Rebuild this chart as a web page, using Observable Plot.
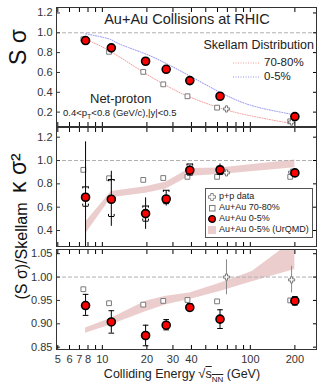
<!DOCTYPE html>
<html><head><meta charset="utf-8">
<script src="https://cdn.jsdelivr.net/npm/d3@7"></script>
<script src="https://cdn.jsdelivr.net/npm/@observablehq/plot@0.6"></script>
<style>
body{margin:0;background:#fff;font-family:"Liberation Sans",Arial,sans-serif;}
#wrap{position:relative;width:320px;height:382px;overflow:hidden;background:#fff;}
.ov{position:absolute;white-space:nowrap;color:#222;line-height:1;}
.ov svg{position:static;}
</style></head><body><div id="wrap"></div>
<script>
// ---------- data ----------
const energies = [7.7, 11.5, 19.6, 27, 39, 62.4, 200];
const periphE = [7.44, 11.1, 18.9, 25.8, 37.6, 59.6, 186];
const ppE = [69, 190];

// S sigma
const sSigCentral = [0.922, 0.848, 0.713, 0.632, 0.518, 0.36, 0.155];
const sSigPeriph = [0.935, 0.808, 0.606, 0.48, 0.36, 0.245, 0.107];
const sSigPP = [0.232, 0.10];
const skellamPeriphE = [7.44, 8.1, 11.1, 18.6, 25.4, 36.6, 59.9, 95.3, 168, 189];
const skellamPeriph = [0.95, 0.92, 0.82, 0.61, 0.49, 0.37, 0.25, 0.17, 0.10, 0.095];
const skellamCentralE = [7.7, 11.0, 12.9, 18.6, 25.4, 38.4, 62.4, 100, 160, 200];
const skellamCentral = [0.99, 0.94, 0.89, 0.80, 0.71, 0.57, 0.40, 0.27, 0.20, 0.17];

// kappa sigma^2
const kSigCentral = [0.685, 0.668, 0.545, 0.67, 0.917, 0.92, 0.894];
const kSigStatLo = [0.22, 0.436, 0.41, 0.61, 0.88, 0.87, 0.88];
const kSigStatHi = [1.16, 0.908, 0.68, 0.74, 0.955, 0.97, 0.91];
const kSigSysLo = [0.608, 0.52, 0.48, 0.63, 0.875, 0.88, 0.875];
const kSigSysHi = [0.774, 0.837, 0.61, 0.745, 0.97, 0.95, 0.915];
const kSigPeriph = [0.92, 0.848, 0.834, 0.85, 0.86, 0.86, 0.86];
const kSigPP = [0.894, 0.90];
const urqmdE = [7.7, 11.5, 19.6, 27, 39, 62.4, 200];
const kSigUrqmdLo = [0.37, 0.68, 0.72, 0.756, 0.865, 0.88, 0.937];
const kSigUrqmdHi = [0.47, 0.735, 0.775, 0.815, 0.932, 0.935, 1.005];

// (S sigma)/Skellam
const ratioCentral = [0.939, 0.904, 0.875, 0.897, 0.935, 0.91, 0.949];
const ratioStatLo = [0.918, 0.88, 0.853, 0.887, 0.928, 0.89, 0.94];
const ratioStatHi = [0.963, 0.928, 0.897, 0.909, 0.943, 0.93, 0.958];
const ratioPeriph = [0.974, 0.944, 0.941, 0.949, 0.951, 0.948, 0.95];
const ratioPP = [1.0, 0.994];
const ratioPPLo = [0.962, 0.966];
const ratioPPHi = [1.037, 1.023];
const ratioUrqmdE = [7.7, 11.5, 19.6, 27, 39, 62.4, 103, 200];
const ratioUrqmdLo = [0.880, 0.898, 0.926, 0.941, 0.952, 0.969, 0.99, 1.016];
const ratioUrqmdHi = [0.891, 0.912, 0.948, 0.959, 0.966, 0.987, 1.012, 1.08];

// ticks
const xTicks = [5, 6, 7, 8, 9, 10, 20, 30, 40, 50, 60, 70, 80, 90, 100, 200];
const xLabels = [5, 6, 7, 8, 10, 20, 30, 40, 100, 200];
const yTicks1 = [0.2, 0.4, 0.6, 0.8, 1.0, 1.2];
const yTicks2 = [0.4, 0.6, 0.8, 1.0, 1.2];
const yTicks3 = [0.85, 0.90, 0.95, 1.00, 1.05];

// ---------- helpers ----------
const RED = "#ff0000", GREY = "#7a7a7a", BAND = "#eccdcd";
const PINK = "#f39a9a", LBLUE = "#9090f0";
const zip = (xs, ys) => xs.map((x, i) => ({x, y: ys[i]}));
const rows = (xs, lo, hi) => xs.map((x, i) => ({x, lo: lo[i], hi: hi[i]}));
const CAP = 1.045;

function capMarks(data, stroke) {
  return [
    Plot.link(data, {x1: d => d.x / CAP, x2: d => d.x * CAP, y1: "hi", y2: "hi", stroke, strokeWidth: 1}),
    Plot.link(data, {x1: d => d.x / CAP, x2: d => d.x * CAP, y1: "lo", y2: "lo", stroke, strokeWidth: 1})
  ];
}
function bracketMarks(data, stroke, h) {
  return [
    ...capMarks(data, stroke),
    Plot.ruleX(data, {x: d => d.x / CAP, y1: "hi", y2: d => d.hi - h, stroke, strokeWidth: 1}),
    Plot.ruleX(data, {x: d => d.x * CAP, y1: "hi", y2: d => d.hi - h, stroke, strokeWidth: 1}),
    Plot.ruleX(data, {x: d => d.x / CAP, y1: "lo", y2: d => d.lo + h, stroke, strokeWidth: 1}),
    Plot.ruleX(data, {x: d => d.x * CAP, y1: "lo", y2: d => d.lo + h, stroke, strokeWidth: 1})
  ];
}

function axes(yTicks, yFmt, showX) {
  return [
    Plot.axisY(yTicks, {anchor: "left", tickSize: -4, tickPadding: 8, tickFormat: yFmt, label: null, fontSize: 11, color: "#333"}),
    Plot.axisY(yTicks, {anchor: "right", tickSize: -4, tickFormat: () => "", label: null}),
    Plot.axisX(xTicks, {anchor: "bottom", tickSize: -4, tickFormat: () => "", label: null}),
    Plot.axisX(xTicks, {anchor: "top", tickSize: -4, tickFormat: () => "", label: null}),
    ...(showX ? [Plot.text(xLabels, {x: d => d, text: d => String(d), frameAnchor: "bottom", dy: 10, fontSize: 11, fill: "#333", lineAnchor: "middle"})] : []),
    Plot.frame({stroke: "#333"})
  ];
}

function panel({top, height, mt, mb, yDomain, marks}) {
  const svg = Plot.plot({
    width: 320, height, marginLeft: 56, marginRight: 4, marginTop: mt, marginBottom: mb,
    style: {background: "none", overflow: "visible", fontFamily: "Liberation Sans, Arial, sans-serif"},
    x: {type: "log", domain: [4.9, 280]},
    y: {domain: yDomain},
    marks
  });
  svg.style.position = "absolute";
  svg.style.left = "0px";
  svg.style.top = top + "px";
  document.getElementById("wrap").appendChild(svg);
}

const oneLine = Plot.ruleY([1], {stroke: "#b0b0b0", strokeDasharray: "4,2"});
const centralDot = (data) => Plot.dot(data, {x: "x", y: "y", r: 4, fill: RED, stroke: "#000", strokeWidth: 1.6});
const periphDot = (data) => Plot.dot(data, {x: "x", y: "y", symbol: "square", r: 2.7, fill: "white", stroke: GREY, strokeWidth: 1});
const ppDot = (data) => Plot.dot(data, {x: "x", y: "y", symbol: "cross", r: 2.6, fill: "white", stroke: GREY, strokeWidth: 1});

// ---------- panel 1 ----------
panel({
  top: 0, height: 130, mt: 7, mb: 4, yDomain: [0.055, 1.255],
  marks: [
    oneLine,
    Plot.line(zip(skellamPeriphE, skellamPeriph), {x: "x", y: "y", curve: "natural", stroke: PINK, strokeWidth: 1, strokeDasharray: "1,1.5"}),
    Plot.line(zip(skellamCentralE, skellamCentral), {x: "x", y: "y", curve: "natural", stroke: LBLUE, strokeWidth: 1, strokeDasharray: "1,1.5"}),
    periphDot(zip(periphE, sSigPeriph)),
    ppDot(zip(ppE, sSigPP)),
    centralDot(zip(energies, sSigCentral)),
    Plot.text(["S σ"], {frameAnchor: "left", dx: -38, dy: -2, rotate: -90, fontSize: 23, fill: "#111"}),
    ...axes(yTicks1, d3.format(".1f"), false)
  ]
});

// ---------- panel 2 ----------
panel({
  top: 120, height: 130, mt: 7, mb: 4, yDomain: [0.263, 1.283],
  marks: [
    Plot.areaY(urqmdE.map((x, i) => ({x, lo: kSigUrqmdLo[i], hi: kSigUrqmdHi[i]})), {x: "x", y1: "lo", y2: "hi", fill: BAND, clip: true}),
    oneLine,
    periphDot(zip(periphE, kSigPeriph)),
    ppDot(zip(ppE, kSigPP)),
    Plot.ruleX(rows(energies, kSigStatLo, kSigStatHi), {x: "x", y1: "lo", y2: "hi", stroke: "#000", strokeWidth: 1, clip: true}),
    ...bracketMarks(rows(energies, kSigSysLo, kSigSysHi), "#000", 0.018),
    centralDot(zip(energies, kSigCentral)),
    Plot.text(["κ σ²"], {frameAnchor: "left", dx: -38, dy: 6, rotate: -90, fontSize: 23, fill: "#111"}),
    ...axes(yTicks2, d3.format(".1f"), false)
  ]
});

// ---------- panel 3 ----------
panel({
  top: 240, height: 142, mt: 9, mb: 33, yDomain: [0.845, 1.059],
  marks: [
    Plot.areaY(ratioUrqmdE.map((x, i) => ({x, lo: ratioUrqmdLo[i], hi: ratioUrqmdHi[i]})), {x: "x", y1: "lo", y2: "hi", fill: BAND, clip: true}),
    oneLine,
    periphDot(zip(periphE, ratioPeriph)),
    Plot.ruleX(rows(ppE, ratioPPLo, ratioPPHi), {x: "x", y1: "lo", y2: "hi", stroke: "#888", strokeWidth: 1}),
    ppDot(zip(ppE, ratioPP)),
    Plot.ruleX(rows(energies, ratioStatLo, ratioStatHi), {x: "x", y1: "lo", y2: "hi", stroke: "#000", strokeWidth: 1}),
    ...capMarks(rows(energies, ratioStatLo, ratioStatHi), "#000"),
    centralDot(zip(energies, ratioCentral)),
    Plot.text(["(S σ)/Skellam"], {frameAnchor: "left", dx: -35, rotate: -90, fontSize: 16, fill: "#111"}),
    ...axes(yTicks3, d3.format(".2f"), true)
  ]
});

// ---------- annotations & legends ----------
const wrap = document.getElementById("wrap");
function ov(html, css) {
  const d = document.createElement("div");
  d.className = "ov";
  d.innerHTML = html;
  d.style.cssText += css;
  wrap.appendChild(d);
  return d;
}
const dotLine = (c) => `<svg width="26" height="4" style="vertical-align:middle;margin-right:5px"><line x1="0" y1="2" x2="26" y2="2" stroke="${c}" stroke-width="1" stroke-dasharray="1,1.5"/></svg>`;
ov("Au+Au Collisions at RHIC", "left:0;width:374px;text-align:center;top:12px;font-size:14.5px;");
ov("Skellam Distribution", "right:6px;top:39px;font-size:12.5px;");
ov(dotLine(PINK) + "70-80%", "left:233px;top:57px;font-size:11.5px;");
ov(dotLine(LBLUE) + "0-5%", "left:233px;top:71px;font-size:11.5px;");
ov("Net-proton", "left:90px;top:92px;font-size:13px;");
ov("0.4&lt;p<sub style='font-size:7px'>T</sub>&lt;0.8 (GeV/c),|y|&lt;0.5", "left:63px;top:108px;font-size:9.5px;");

const sym = (inner) => `<svg width="8" height="8" style="vertical-align:middle;margin-right:3px">${inner}</svg>`;
const legendHTML = [
  sym('<path d="M2.7,0.5h2.6v2.2h2.2v2.6h-2.2v2.2h-2.6v-2.2h-2.2v-2.6h2.2z" fill="white" stroke="#7a7a7a" stroke-width="0.9"/>') + "p+p data",
  sym('<rect x="1.5" y="1.5" width="5.5" height="5.5" fill="white" stroke="#7a7a7a"/>') + "Au+Au 70-80%",
  sym('<circle cx="4" cy="4" r="3.3" fill="#ff0000" stroke="#000" stroke-width="1.3"/>') + "Au+Au 0-5%",
  sym('<rect x="0" y="0" width="8" height="8" fill="' + BAND + '"/>') + "Au+Au 0-5% (UrQMD)"
].map(s => `<div style="height:11px;line-height:11px">${s}</div>`).join("");
ov(legendHTML, "left:205px;top:188px;padding:2px 3px 2px 2px;border:1px solid #555;background:#fff;font-size:9px;");

ov('Colliding Energy <span style="font-size:13px">√</span><span style="text-decoration:overline">s<sub style="font-size:8px;line-height:0">NN</sub></span> (GeV)', "left:0;width:364px;text-align:center;top:367px;font-size:12.5px;");
</script></body></html>
